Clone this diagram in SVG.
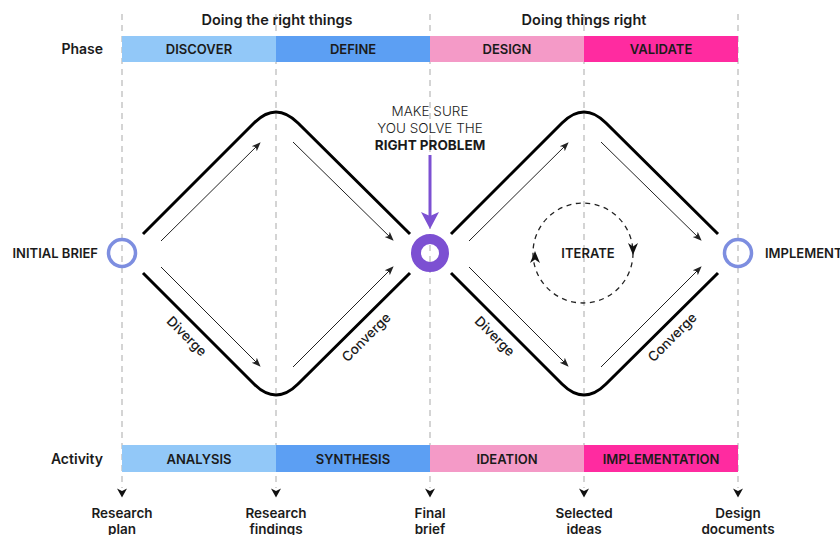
<svg xmlns="http://www.w3.org/2000/svg" width="840" height="535" viewBox="0 0 840 535">
<style>
text{font-family:Inter,"Noto Sans","Liberation Sans",sans-serif;fill:#1b1b1b}
.b{font-weight:600;font-size:13px;text-anchor:middle;dominant-baseline:central}
.h{font-weight:600;font-size:14.5px;text-anchor:middle}
.lbl{font-weight:600;font-size:14px;text-anchor:end}
.t{font-weight:300;font-size:13.5px;text-anchor:middle}
.out{font-weight:600;font-size:13.5px;text-anchor:middle}
.dash{stroke:#bdbdbd;stroke-width:1.3;stroke-dasharray:6 5;fill:none}
.dia{stroke:#000;stroke-width:3;fill:none;stroke-linecap:butt}
.thin{stroke:#222;stroke-width:1;fill:none}
.ring{fill:none;stroke:#7D8EE0;stroke-width:3.5}
.rot{font-weight:500;font-size:13.5px;text-anchor:middle;dominant-baseline:central}
</style>
<defs>
<marker id="ah" viewBox="0 0 10 10" refX="9" refY="5" markerWidth="9" markerHeight="9" markerUnits="userSpaceOnUse" orient="auto">
<path d="M0,1 L10,5 L0,9 L2.5,5 z" fill="#222"/>
</marker>
<path id="tri" d="M-5,-4.5 L0,-2 L5,-4.5 L0,4.5 z" fill="#111"/>
</defs>

<g id="guides">
<line class="dash" x1="122" y1="14" x2="122" y2="488"/>
<line class="dash" x1="276" y1="14" x2="276" y2="488"/>
<line class="dash" x1="430" y1="14" x2="430" y2="488"/>
<line class="dash" x1="584" y1="14" x2="584" y2="488"/>
<line class="dash" x1="738" y1="14" x2="738" y2="488"/>
</g>

<g id="headers">
<text class="h" x="277" y="25">Doing the right things</text>
<text class="h" x="584" y="25">Doing things right</text>
<text class="lbl" x="103" y="54">Phase</text>
<text class="lbl" x="103" y="464">Activity</text>
</g>

<g id="phase-discover"><rect x="122" y="36" width="154" height="26" fill="#92C8F8"/><text class="b" x="199" y="49">DISCOVER</text></g>
<g id="phase-define"><rect x="276" y="36" width="154" height="26" fill="#5C9FF3"/><text class="b" x="353" y="49">DEFINE</text></g>
<g id="phase-design"><rect x="430" y="36" width="154" height="26" fill="#F49AC7"/><text class="b" x="507" y="49">DESIGN</text></g>
<g id="phase-validate"><rect x="584" y="36" width="154" height="26" fill="#FF2BA0"/><text class="b" x="661" y="49">VALIDATE</text></g>

<g id="act-analysis"><rect x="122" y="445" width="154" height="27" fill="#92C8F8"/><text class="b" x="199" y="459">ANALYSIS</text></g>
<g id="act-synthesis"><rect x="276" y="445" width="154" height="27" fill="#5C9FF3"/><text class="b" x="353" y="459">SYNTHESIS</text></g>
<g id="act-ideation"><rect x="430" y="445" width="154" height="27" fill="#F49AC7"/><text class="b" x="507" y="459">IDEATION</text></g>
<g id="act-implementation"><rect x="584" y="445" width="154" height="27" fill="#FF2BA0"/><text class="b" x="661" y="459">IMPLEMENTATION</text></g>

<g id="diamonds">
<path class="dia" d="M143,234 L254,123 Q276,101 298,123 L410,234"/>
<path class="dia" d="M143,273 L254,384 Q276,406 298,384 L410,273"/>
<path class="dia" d="M451,234 L562,123 Q584,101 606,123 L718,234"/>
<path class="dia" d="M451,273 L562,384 Q584,406 606,384 L718,273"/>
</g>

<g id="connectors">
<line class="thin" x1="161" y1="241" x2="260" y2="143" marker-end="url(#ah)"/>
<line class="thin" x1="293" y1="142" x2="393" y2="240" marker-end="url(#ah)"/>
<line class="thin" x1="161" y1="267" x2="260" y2="366" marker-end="url(#ah)"/>
<line class="thin" x1="293" y1="367" x2="393" y2="267" marker-end="url(#ah)"/>
<line class="thin" x1="469" y1="241" x2="568" y2="143" marker-end="url(#ah)"/>
<line class="thin" x1="601" y1="142" x2="701" y2="240" marker-end="url(#ah)"/>
<line class="thin" x1="469" y1="267" x2="568" y2="366" marker-end="url(#ah)"/>
<line class="thin" x1="601" y1="367" x2="701" y2="267" marker-end="url(#ah)"/>
<line x1="430" y1="155" x2="430" y2="218" stroke="#7C50D2" stroke-width="3"/>
<path d="M421,212 L430,216 L439,212 L430,229 z" fill="#7C50D2"/>
<use href="#tri" x="122" y="493"/>
<use href="#tri" x="276" y="493"/>
<use href="#tri" x="430" y="493"/>
<use href="#tri" x="584" y="493"/>
<use href="#tri" x="738" y="493"/>
</g>

<g id="rot-labels">
<text class="rot" transform="translate(187,336) rotate(45)">Diverge</text>
<text class="rot" transform="translate(366,337) rotate(-45)">Converge</text>
<text class="rot" transform="translate(495,336) rotate(45)">Diverge</text>
<text class="rot" transform="translate(672,337) rotate(-45)">Converge</text>
</g>

<g id="node-initial-brief">
<circle class="ring" cx="122" cy="253" r="13.5"/>
<text class="b" x="98" y="253" style="text-anchor:end">INITIAL BRIEF</text>
</g>
<g id="node-final">
<circle cx="430" cy="253" r="14" fill="none" stroke="#7C50D2" stroke-width="10"/>
</g>
<g id="node-implement">
<circle class="ring" cx="738" cy="253" r="13.5"/>
<text class="b" x="765" y="253" style="text-anchor:start">IMPLEMENT</text>
</g>

<g id="note">
<text class="t" x="430" y="116">MAKE SURE</text>
<text class="t" x="430" y="133">YOU SOLVE THE</text>
<text class="t" x="430" y="150" style="font-weight:700">RIGHT PROBLEM</text>
</g>

<g id="iterate">
<circle cx="583" cy="253" r="50" fill="none" stroke="#222" stroke-width="1.3" stroke-dasharray="5 4.5"/>
<path d="M628,243 L633,246.5 L638,243 L633,255 z" fill="#111"/>
<path d="M530,263 L535,259.5 L540,263 L535,251 z" fill="#111"/>
<text class="b" x="588" y="253">ITERATE</text>
</g>

<g id="outputs">
<text class="out" x="122" y="518">Research</text><text class="out" x="122" y="534">plan</text>
<text class="out" x="276" y="518">Research</text><text class="out" x="276" y="534">findings</text>
<text class="out" x="430" y="518">Final</text><text class="out" x="430" y="534">brief</text>
<text class="out" x="584" y="518">Selected</text><text class="out" x="584" y="534">ideas</text>
<text class="out" x="738" y="518">Design</text><text class="out" x="738" y="534">documents</text>
</g>
</svg>
